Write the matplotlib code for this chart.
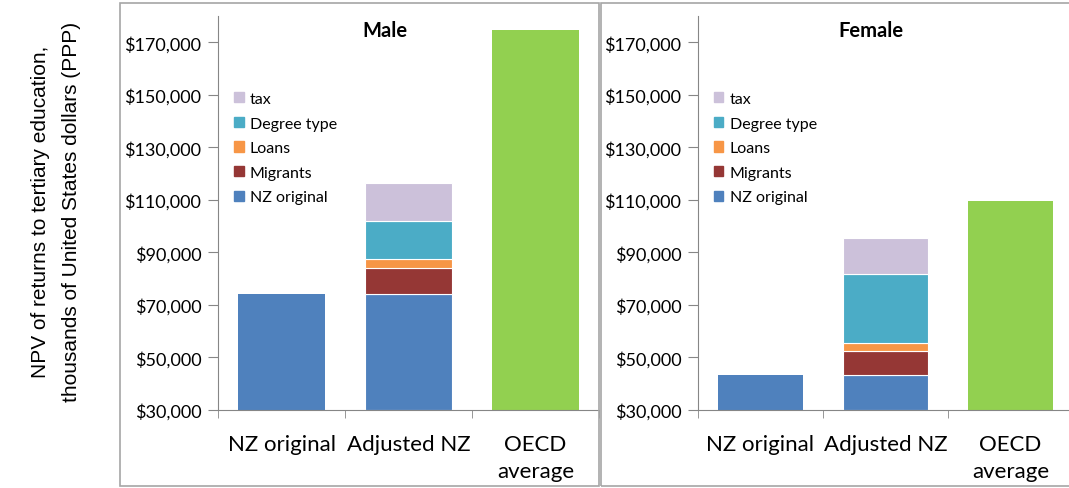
import numpy as np
import matplotlib.pyplot as plt
from matplotlib.patches import Patch, Rectangle

# data (USD PPP)
categories = ["NZ original", "Adjusted NZ", "OECD\naverage"]
components = ["NZ original", "Migrants", "Loans", "Degree type", "tax"]
colors = ["#4F81BD", "#953735", "#F79646", "#4BACC6", "#CCC1DA"]
oecd_color = "#92D050"

# stacked tops of the "Adjusted NZ" bar
male_nz_original = 74200
male_adjusted_tops = [74100, 84100, 87400, 101900, 116500]
male_oecd = 174800

female_nz_original = 43300
female_adjusted_tops = [43200, 52400, 55600, 81800, 95400]
female_oecd = 109600

yticks = np.arange(30000, 170001, 20000)
grey = "#868686"

plt.rcParams['font.family'] = ['Lato', 'DejaVu Sans']

fig = plt.figure(figsize=(10.69, 4.89), dpi=100)
W, H = 1069, 489

def fx(px):
    return px / W

def fy(py):
    return 1 - py / H

# chart area frames
fig.patches.append(Rectangle((fx(120), fy(487)), fx(599) - fx(120), fy(4) - fy(487),
                             transform=fig.transFigure, fill=False, ec="#A6A6A6", lw=1.2))
fig.patches.append(Rectangle((fx(601), fy(487)), fx(1150) - fx(601), fy(4) - fy(487),
                             transform=fig.transFigure, fill=False, ec="#A6A6A6", lw=1.2))


def panel(left, right, title, title_x, nz_orig, tops, oecd, show_legend=True):
    ax = fig.add_axes([fx(left), fy(411), fx(right) - fx(left), fy(17) - fy(411)])
    x = np.arange(len(categories))
    w = 0.685
    ax.bar(x[0], nz_orig - 30000, bottom=30000, width=w, color=colors[0], lw=0)
    bottom = 30000
    for i, top in enumerate(tops):
        ax.bar(x[1], top - bottom, bottom=bottom, width=w, color=colors[i],
               edgecolor="white", lw=0.8)
        bottom = top
    ax.bar(x[2], oecd - 30000, bottom=30000, width=w, color=oecd_color, lw=0)

    ax.set_xlim(-0.5, 2.5)
    ax.set_ylim(30000, 180000)
    ax.set_yticks(yticks)
    ax.set_yticklabels(["${:,}".format(v) for v in yticks], fontsize=13)
    ax.set_xticks(x)
    ax.set_xticklabels(categories, fontsize=16, linespacing=1.45)
    ax.set_xticks([-0.5, 0.5, 1.5, 2.5], minor=True)
    ax.tick_params(axis="x", which="major", length=0, pad=17)
    ax.tick_params(axis="x", which="minor", length=6, color=grey, direction="out")
    ax.tick_params(axis="y", length=7, color=grey, pad=5)
    for s in ["top", "right"]:
        ax.spines[s].set_visible(False)
    for s in ["left", "bottom"]:
        ax.spines[s].set_color(grey)
    fig.text(fx(title_x), fy(31), title, fontsize=14.5, fontweight="bold",
             ha="center", va="center")

    if show_legend:
        handles = [Patch(color=c, label=l) for c, l in zip(colors, components)][::-1]
        ax.legend(handles=handles, loc="upper left", bbox_to_anchor=(0.042, 0.807),
                  frameon=False, fontsize=11.5, handlelength=0.6, handleheight=0.6,
                  handletextpad=0.4, labelspacing=0.66, borderpad=0, borderaxespad=0)
    return ax


panel(218, 599, "Male", 385, male_nz_original, male_adjusted_tops, male_oecd)
panel(698, 1073, "Female", 871, female_nz_original, female_adjusted_tops, female_oecd)

fig.text(fx(56), fy(212),
         "NPV of returns to tertiary education,\nthousands of United States dollars (PPP)",
         rotation=90, ha="center", va="center", fontsize=15, linespacing=1.8,
         family=["Liberation Sans", "DejaVu Sans"])

fig.savefig("out.png", dpi=100)
